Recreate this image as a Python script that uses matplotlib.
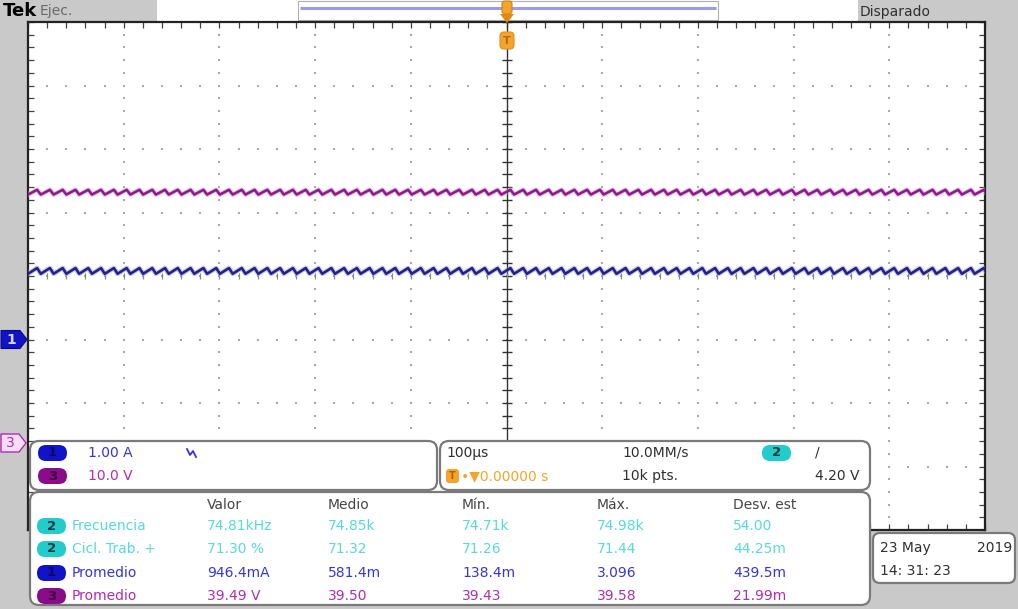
import numpy as np
import matplotlib
matplotlib.use("Agg")
import matplotlib.pyplot as plt
from matplotlib.patches import FancyBboxPatch, Rectangle, Polygon

time_per_div_us = 100.0          # horizontal scale
n_div_x = 10
n_div_y = 8
ch1_scale_A = 1.00               # A/div
ch3_scale_V = 10.0               # V/div
ch1_ground_div = -1.0            # ground marker positions (divisions from centre)
ch3_ground_div = -2.63
ch1_level_A = 1.08               # displayed level of the traces
ch3_level_V = 39.5
ch1_ripple_pp_A = 0.09
ch3_ripple_pp_V = 0.75
ripple_freq_kHz = 74.81          # measured frequency
ripple_phase = [0.0, 0.713]      # vertices of one period (fraction of period)
ripple_level = [-0.5, 0.5]       # relative level at those vertices

meas_headers = ["Valor", "Medio", "Mín.", "Máx.", "Desv. est"]
meas_channels = ["2", "2", "1", "3"]
meas_names = ["Frecuencia", "Cicl. Trab. +", "Promedio", "Promedio"]
meas_valor = ["74.81kHz", "71.30 %", "946.4mA", "39.49 V"]
meas_medio = ["74.85k", "71.32", "581.4m", "39.50"]
meas_min = ["74.71k", "71.26", "138.4m", "39.43"]
meas_max = ["74.98k", "71.44", "3.096", "39.58"]
meas_desv = ["54.00", "44.25m", "439.5m", "21.99m"]

ch1_label = "1.00 A"
ch3_label = "10.0 V"
timebase_label = "100µs"
sample_rate_label = "10.0MM/s"
record_label = "10k pts."
trigger_level_label = "4.20 V"
trigger_pos_label = "0.00000 s"
date_label = "23 May"
year_label = "2019"
time_label = "14: 31: 23"

# ---------------- colours ----------------
C_BLUE_T = "#22228a"
C_PURP_T = "#8c1c8c"
C_BLUE = "#3434e0"
C_PURP = "#b02cb0"
C_CYAN = "#58dada"
C_BLUE_B = "#1212c8"
C_PURP_B = "#8a0c8a"
C_CYAN_B = "#22cccc"
C_ORANGE = "#f2a52a"
C_HEAD = "#454545"
C_GRAY = "#c9c9c9"
C_EDGE = "#7a7a7a"

W, H = 1018, 609
fig = plt.figure(figsize=(W / 100, H / 100), dpi=100)
fig.patch.set_facecolor(C_GRAY)

FONT = "DejaVu Sans"

# background layer in pixel coordinates
bg = fig.add_axes([0, 0, 1, 1], zorder=0)
bg.set_xlim(0, W); bg.set_ylim(H, 0); bg.axis("off")
bg.add_patch(Rectangle((157, 0), 701, 21, fc="white", ec="none"))
bg.add_patch(Rectangle((298, 1), 420, 19, fc="white", ec="#b0b0b0", lw=0.8))
bg.plot([300, 716], [8, 8], color="#9c9cea", lw=2.2, solid_capstyle="butt")
bg.text(3, 11, "Tek", fontsize=13, fontweight="bold", color="black", va="center", family=FONT)
bg.text(40, 11, "Ejec.", fontsize=10, color="#6a6a6a", va="center", family=FONT)
bg.text(860, 12, "Disparado", fontsize=10, color="#303030", va="center", family=FONT)

# ---------------- graticule ----------------
x0, x1, y0, y1 = 28, 985, 22, 530
ax = fig.add_axes([x0 / W, (H - y1) / H, (x1 - x0) / W, (y1 - y0) / H], zorder=1)
ax.set_facecolor("white")
half_t = time_per_div_us * n_div_x / 2
ax.set_xlim(-half_t, half_t)
ax.set_ylim(-n_div_y / 2, n_div_y / 2)
for s in ax.spines.values():
    s.set_color("#222222"); s.set_linewidth(1.6)
ax.set_xticks(np.arange(-half_t, half_t + 1, time_per_div_us / 5))
ax.set_yticks(np.arange(-n_div_y / 2, n_div_y / 2 + 0.01, 0.2))
ax.tick_params(direction="in", length=4, width=0.9, color="#444444",
               top=True, right=True, labelbottom=False, labelleft=False)

# dotted grid
mx = np.arange(-half_t, half_t + 1, time_per_div_us / 5)
my = np.arange(-n_div_y / 2, n_div_y / 2 + 0.01, 0.2)
for gx in np.arange(-half_t + time_per_div_us, half_t, time_per_div_us):
    if abs(gx) < 1e-9:
        continue
    ax.plot(np.full_like(my, gx), my, ls="none", marker="s", ms=1.6, color="#a9a9a9", mew=0)
for gy in range(-n_div_y // 2 + 1, n_div_y // 2):
    ax.plot(mx, np.full_like(mx, gy), ls="none", marker="s", ms=1.6, color="#a9a9a9", mew=0)
# centre vertical line with ticks
ax.axvline(0, color="#333333", lw=1.0)
ax.plot(np.zeros_like(my), my, ls="none", marker="_", ms=7, mew=1.0, color="#333333")
ax.plot(mx, np.zeros_like(mx), ls="none", marker="|", ms=5, mew=0.9, color="#888888")

# ---------------- traces ----------------
period = 1000.0 / ripple_freq_kHz
starts = -half_t + period * np.arange(-1, int(2 * half_t / period) + 2)
t = (starts[:, None] + period * np.array(ripple_phase)[None, :]).ravel()
lvl = np.tile(ripple_level, len(starts))
ch3 = ch3_ground_div + (ch3_level_V + ch3_ripple_pp_V * lvl) / ch3_scale_V
ch1 = ch1_ground_div + (ch1_level_A + ch1_ripple_pp_A * lvl) / ch1_scale_A
ax.plot(t, ch3, color="#d9a0d9", lw=3.6, alpha=0.5, zorder=3)
ax.plot(t, ch3, color=C_PURP_T, lw=1.9, zorder=4)
ax.plot(t, ch1, color="#9c9cdc", lw=3.6, alpha=0.5, zorder=3)
ax.plot(t, ch1, color=C_BLUE_T, lw=1.9, zorder=4)

# ---------------- overlay (markers, panels, text) ----------------
ov = fig.add_axes([0, 0, 1, 1], zorder=3)
ov.set_xlim(0, W); ov.set_ylim(H, 0); ov.axis("off"); ov.patch.set_alpha(0)

def ypix(div):
    return (y0 + y1) / 2 - div * (y1 - y0) / n_div_y

# ground markers
g1 = ypix(ch1_ground_div)
ov.add_patch(Polygon([(1, g1 - 9), (20, g1 - 9), (27, g1), (20, g1 + 9), (1, g1 + 9)],
                     closed=True, fc=C_BLUE_B, ec="#0a0a80", lw=0.8))
ov.text(11, g1, "1", color="#d8d8ff", fontsize=10, fontweight="bold", ha="center", va="center", family=FONT)
g3 = ypix(ch3_ground_div)
ov.add_patch(Polygon([(1, g3 - 9), (19, g3 - 9), (26, g3), (19, g3 + 9), (1, g3 + 9)],
                     closed=True, fc="#f6ddf6", ec=C_PURP, lw=1.0))
ov.text(10, g3, "3", color=C_PURP, fontsize=10, ha="center", va="center", family=FONT)

# trigger markers at top
ov.add_patch(FancyBboxPatch((502, 1), 10, 13, boxstyle="round,pad=0,rounding_size=3",
                            fc=C_ORANGE, ec="#d08010", lw=0.8))
ov.add_patch(Polygon([(500, 14), (514, 14), (507, 23)], closed=True, fc="#e08a10", ec="none"))
ov.add_patch(FancyBboxPatch((500, 32), 14, 17, boxstyle="round,pad=0,rounding_size=4",
                            fc=C_ORANGE, ec="#e09020", lw=0.8))
ov.text(507, 40.5, "T", color="#b86a00", fontsize=8, fontweight="bold", ha="center", va="center", family=FONT)

def panel(x, y, w, h, r=9):
    ov.add_patch(FancyBboxPatch((x, y), w, h, boxstyle=f"round,pad=0,rounding_size={r}",
                                fc="white", ec=C_EDGE, lw=1.6))

def badge(x, y, label, fc, tc="#111111"):
    ov.add_patch(FancyBboxPatch((x, y - 8), 29, 16, boxstyle="round,pad=0,rounding_size=8",
                                fc=fc, ec="none"))
    ov.text(x + 14.5, y, label, color=tc, fontsize=9.5, fontweight="bold",
            ha="center", va="center", family=FONT)

def txt(x, y, s, c, size=10, **kw):
    ov.text(x, y, s, color=c, fontsize=size, va="center", family=FONT, **kw)

# channel panel
panel(30, 441, 407, 49)
badge(38, 453, "1", C_BLUE_B, "#0a0a60")
badge(38, 476, "3", C_PURP_B, "#3a003a")
txt(88, 453, ch1_label, C_BLUE)
txt(88, 476, ch3_label, C_PURP)
ov.plot([187, 190, 193, 196], [449, 455, 451, 457], color=C_BLUE, lw=1.3)

# timebase panel
panel(440, 441, 430, 49)
txt(446, 453, timebase_label, "#303030")
ov.add_patch(FancyBboxPatch((446, 469), 13, 14, boxstyle="round,pad=0,rounding_size=3",
                            fc=C_ORANGE, ec="none"))
ov.text(452.5, 476, "T", color="#b06000", fontsize=7, fontweight="bold", ha="center", va="center", family=FONT)
txt(461, 476, "•▼" + trigger_pos_label, C_ORANGE, size=10)
txt(622, 453, sample_rate_label, "#303030")
txt(622, 476, record_label, "#303030")
badge(762, 453, "2", C_CYAN_B, "#0a3a3a")
txt(815, 453, "/", "#303030")
txt(860, 476, trigger_level_label, "#303030", ha="right")

# measurement panel
panel(30, 492, 840, 113)
col_x = [207, 328, 462, 597, 733]
row_y = [526, 549, 573, 596]
for cxp, hd in zip(col_x, meas_headers):
    txt(cxp, 505, hd, C_HEAD)
badge_col = {"1": (C_BLUE_B, "#0a0a60", C_BLUE), "2": (C_CYAN_B, "#0a3a3a", C_CYAN),
             "3": (C_PURP_B, "#3a003a", C_PURP)}
columns = [meas_valor, meas_medio, meas_min, meas_max, meas_desv]
for i, (chn, name) in enumerate(zip(meas_channels, meas_names)):
    bfc, btc, tcol = badge_col[chn]
    badge(37, row_y[i], chn, bfc, btc)
    txt(72, row_y[i], name, tcol)
    for cxp, col in zip(col_x, columns):
        txt(cxp, row_y[i], col[i], tcol)

# date box
panel(873, 533, 142, 50, r=7)
txt(880, 548, date_label, "#303030")
txt(1012, 548, year_label, "#303030", ha="right")
txt(880, 571, time_label, "#303030")

fig.savefig("out.png", dpi=100, facecolor=fig.get_facecolor())
